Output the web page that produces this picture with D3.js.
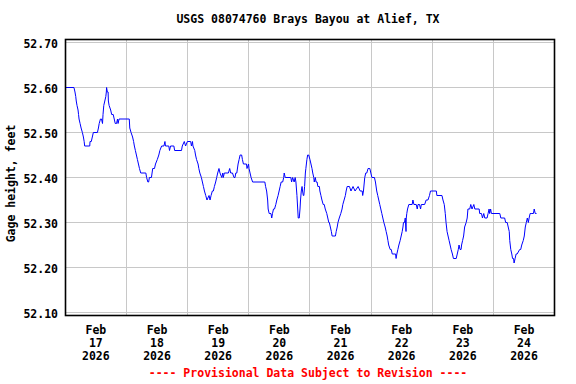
<!DOCTYPE html>
<html>
<head>
<meta charset="utf-8">
<script src="https://cdn.jsdelivr.net/npm/d3@7"></script>
<style>
  body { margin: 0; background: #fff; }
  text { font-family: "DejaVu Sans Mono", monospace; font-weight: bold; font-size: 11.5px; fill: #000; }
</style>
</head>
<body>
<div id="chart"></div>
<script>
var chartTitle = 'USGS 08074760 Brays Bayou at Alief, TX';
var yTitle = 'Gage height, feet';
var footNote = '---- Provisional Data Subject to Revision ----';

var startDay = new Date(2026, 1, 17);
var endDay = new Date(2026, 1, 25);
var yTicks = [52.10, 52.20, 52.30, 52.40, 52.50, 52.60, 52.70];
var dayLabels = ['17', '18', '19', '20', '21', '22', '23', '24'];

// [hours after Feb 17 00:00, gage height ft]
var readings = [
  [0,52.60],[3.4,52.60],[3.8,52.59],[4.1,52.58],[4.3,52.57],[4.6,52.56],[5.0,52.55],[5.2,52.54],[5.4,52.53],[5.8,52.52],
  [6.2,52.51],[6.7,52.50],[7.1,52.49],[7.4,52.48],[7.6,52.47],[9.6,52.47],[9.7,52.48],[10.2,52.48],[10.6,52.49],[11.0,52.50],
  [12.6,52.50],[13.0,52.51],[13.3,52.52],[13.8,52.53],[14.2,52.53],[14.6,52.52],[14.8,52.54],[15.1,52.56],[15.5,52.57],[15.9,52.58],
  [16.1,52.59],[16.2,52.60],[16.5,52.59],[16.8,52.59],[16.9,52.57],[17.2,52.56],[17.8,52.55],[18.2,52.54],[18.8,52.54],[19.2,52.53],
  [19.6,52.52],[20.1,52.52],[20.5,52.53],[20.7,52.52],[21.1,52.53],[25.1,52.53],[25.3,52.51],[25.8,52.50],[26.4,52.49],[26.8,52.48],
  [27.1,52.47],[27.5,52.46],[27.9,52.45],[28.3,52.44],[28.7,52.43],[29.1,52.42],[29.6,52.41],[31.6,52.41],[31.9,52.40],[32.4,52.39],
  [32.7,52.39],[33.0,52.40],[33.8,52.40],[34.3,52.42],[35.0,52.42],[35.4,52.43],[36.1,52.44],[36.7,52.45],[37.1,52.46],[37.8,52.47],
  [38.7,52.47],[39.1,52.48],[39.3,52.47],[40.6,52.47],[40.9,52.46],[41.3,52.47],[42.6,52.47],[42.9,52.46],[45.6,52.46],[45.9,52.47],
  [46.7,52.48],[47.2,52.47],[47.9,52.48],[49.2,52.48],[49.5,52.47],[49.9,52.48],[50.1,52.47],[50.8,52.46],[51.1,52.45],[51.5,52.44],
  [52.1,52.43],[52.4,52.42],[52.8,52.41],[53.4,52.40],[53.8,52.39],[54.2,52.38],[54.6,52.37],[55.1,52.36],[55.6,52.35],[56.4,52.36],
  [56.8,52.35],[57.2,52.36],[57.7,52.37],[58.1,52.37],[58.5,52.38],[59.0,52.39],[59.4,52.40],[59.8,52.41],[60.3,52.42],[60.7,52.41],
  [61.4,52.40],[61.8,52.41],[62.0,52.40],[62.4,52.41],[64.0,52.41],[64.5,52.42],[64.9,52.41],[65.6,52.41],[66.2,52.40],[66.6,52.40],
  [66.9,52.41],[67.3,52.41],[67.8,52.43],[68.2,52.44],[68.6,52.45],[69.2,52.45],[69.5,52.44],[69.9,52.43],[71.1,52.43],[71.3,52.42],
  [71.9,52.43],[72.1,52.42],[72.5,52.41],[72.9,52.40],[73.5,52.39],[78.3,52.39],[78.6,52.38],[79.0,52.37],[79.4,52.35],[79.6,52.33],
  [80.0,52.32],[80.7,52.32],[81.0,52.31],[81.3,52.32],[81.7,52.33],[82.1,52.33],[82.6,52.34],[83.0,52.35],[83.5,52.36],[83.9,52.37],
  [84.3,52.38],[84.7,52.39],[85.3,52.39],[85.7,52.40],[85.9,52.41],[86.3,52.40],[88.5,52.40],[88.8,52.39],[89.2,52.40],[89.8,52.39],
  [90.2,52.40],[90.5,52.39],[90.9,52.36],[91.2,52.33],[91.4,52.31],[91.8,52.31],[92.1,52.33],[92.3,52.35],[92.6,52.37],[92.9,52.38],
  [93.1,52.37],[93.4,52.36],[93.6,52.36],[93.9,52.38],[94.2,52.41],[94.4,52.42],[94.8,52.44],[95.1,52.45],[95.5,52.45],[96.0,52.44],
  [96.4,52.43],[96.8,52.42],[97.1,52.41],[97.5,52.40],[97.7,52.39],[98.1,52.40],[98.4,52.39],[98.8,52.39],[99.1,52.38],[99.7,52.38],
  [99.9,52.37],[100.3,52.36],[100.7,52.35],[101.2,52.34],[101.6,52.34],[102.0,52.33],[102.6,52.32],[103.0,52.31],[103.4,52.30],[103.6,52.30],
  [104.0,52.29],[104.4,52.28],[104.7,52.27],[106.0,52.27],[106.3,52.28],[106.7,52.29],[107.0,52.30],[107.5,52.31],[108.1,52.32],[108.6,52.33],
  [108.9,52.34],[109.4,52.35],[109.9,52.36],[110.2,52.37],[110.6,52.38],[111.5,52.38],[112.1,52.37],[112.9,52.38],[113.7,52.37],[114.9,52.38],
  [115.7,52.37],[116.5,52.37],[116.7,52.36],[117.0,52.37],[117.5,52.40],[117.9,52.41],[118.3,52.41],[118.8,52.42],[119.5,52.42],[119.9,52.41],
  [120.3,52.40],[121.3,52.40],[121.7,52.39],[122.2,52.37],[122.6,52.36],[123.0,52.35],[123.4,52.34],[123.8,52.33],[124.2,52.32],[124.6,52.31],
  [125.0,52.30],[125.5,52.29],[125.9,52.28],[126.3,52.27],[126.6,52.26],[126.9,52.25],[127.5,52.24],[127.9,52.24],[128.3,52.23],[129.6,52.23],
  [129.8,52.22],[130.1,52.23],[130.5,52.24],[130.9,52.25],[131.4,52.26],[131.8,52.27],[132.2,52.28],[132.5,52.29],[132.7,52.30],[133.1,52.30],
  [133.4,52.31],[133.7,52.28],[133.8,52.31],[134.0,52.32],[134.3,52.33],[134.8,52.34],[136.1,52.34],[136.4,52.35],[136.8,52.34],[137.7,52.34],
  [138.1,52.33],[138.4,52.34],[139.0,52.34],[139.4,52.33],[139.7,52.34],[141.0,52.34],[141.6,52.35],[142.3,52.35],[142.9,52.36],[143.3,52.37],
  [145.6,52.37],[145.8,52.36],[147.8,52.36],[148.2,52.35],[148.7,52.34],[149.1,52.32],[149.4,52.30],[149.8,52.28],[150.2,52.27],[150.6,52.26],
  [151.0,52.25],[151.4,52.24],[151.9,52.23],[152.3,52.22],[153.4,52.22],[153.8,52.23],[154.2,52.24],[154.5,52.25],[154.9,52.24],[155.3,52.24],
  [155.5,52.25],[155.9,52.26],[156.3,52.27],[156.7,52.29],[157.3,52.30],[157.7,52.31],[158.0,52.33],[158.7,52.33],[159.1,52.34],[159.6,52.33],
  [160.3,52.34],[160.7,52.33],[162.4,52.33],[162.6,52.32],[163.3,52.32],[163.7,52.31],[164.2,52.32],[164.6,52.31],[165.5,52.31],[165.9,52.32],
  [166.3,52.33],[166.5,52.32],[166.9,52.33],[167.2,52.32],[170.5,52.32],[170.9,52.31],[172.4,52.31],[172.8,52.30],[173.4,52.30],[173.8,52.29],
  [174.2,52.28],[174.4,52.26],[174.8,52.24],[175.2,52.23],[175.5,52.22],[175.9,52.22],[176.1,52.21],[176.5,52.22],[176.9,52.23],[177.3,52.23],
  [178.3,52.24],[178.7,52.24],[179.1,52.25],[179.7,52.26],[180.1,52.27],[180.5,52.29],[180.9,52.30],[181.3,52.31],[181.7,52.30],[182.0,52.31],
  [182.4,52.32],[182.8,52.32],[183.7,52.32],[184.0,52.33],[184.4,52.32],[184.9,52.32]
];

var width = 576, height = 384;
var plotLeft = 65.3, plotRight = 554.6, plotTop = 42.5, plotBottom = 312.5;

var svg = d3.select('#chart').append('svg')
  .attr('width', width)
  .attr('height', height);

var x = d3.scaleTime().domain([startDay, endDay]).range([plotLeft, plotRight]);
var y = d3.scaleLinear().domain([52.10, 52.70]).range([plotBottom, plotTop]);

var grid = svg.append('g')
  .attr('shape-rendering', 'crispEdges')
  .attr('stroke', '#c8c8c8')
  .attr('stroke-width', 1);

// horizontal grid
grid.selectAll('.hgrid')
  .data(yTicks)
  .enter().append('line')
  .attr('x1', plotLeft).attr('x2', plotRight)
  .attr('y1', d => y(d)).attr('y2', d => y(d));

// midnight lines
var midnights = d3.timeDay.range(d3.timeDay.offset(startDay, 1), endDay);
grid.selectAll('.vgrid')
  .data(midnights)
  .enter().append('line')
  .attr('x1', d => x(d)).attr('x2', d => x(d))
  .attr('y1', plotTop - 3).attr('y2', plotBottom + 3);

var line = d3.line()
  .x(d => x(d3.timeMinute.offset(startDay, Math.round(d[0] * 60))))
  .y(d => y(d[1]));

svg.append('path')
  .datum(readings)
  .attr('d', line)
  .attr('fill', 'none')
  .attr('stroke', '#0000ff')
  .attr('stroke-width', 1);

// frame
svg.append('rect')
  .attr('x', 65.5)
  .attr('y', 39.5)
  .attr('width', 554.5 - 65.5)
  .attr('height', 315.5 - 39.5)
  .attr('fill', 'none')
  .attr('stroke', '#000')
  .attr('stroke-width', 1.6);

// y tick labels
svg.selectAll('.ylab')
  .data(yTicks)
  .enter().append('text')
  .attr('x', 58)
  .attr('y', d => y(d) + 5)
  .attr('text-anchor', 'end')
  .text(d => d3.format('.2f')(d));

// x tick labels at noon
var noons = d3.timeDay.range(startDay, endDay).map(d => d3.timeHour.offset(d, 12));
var xlab = svg.selectAll('.xlab')
  .data(noons)
  .enter().append('text')
  .attr('text-anchor', 'middle');

xlab.append('tspan').attr('x', d => x(d)).attr('y', 334).text('Feb');
xlab.append('tspan').attr('x', d => x(d)).attr('y', 347).text((d, i) => dayLabels[i]);
xlab.append('tspan').attr('x', d => x(d)).attr('y', 360).text('2026');

svg.append('text')
  .attr('x', 308)
  .attr('y', 23)
  .attr('text-anchor', 'middle')
  .text(chartTitle);

svg.append('text')
  .attr('transform', 'translate(15, 183.5) rotate(-90)')
  .attr('text-anchor', 'middle')
  .text(yTitle);

svg.append('text')
  .attr('x', 308)
  .attr('y', 377)
  .attr('text-anchor', 'middle')
  .style('fill', '#ff0000')
  .text(footNote);
</script>
</body>
</html>
